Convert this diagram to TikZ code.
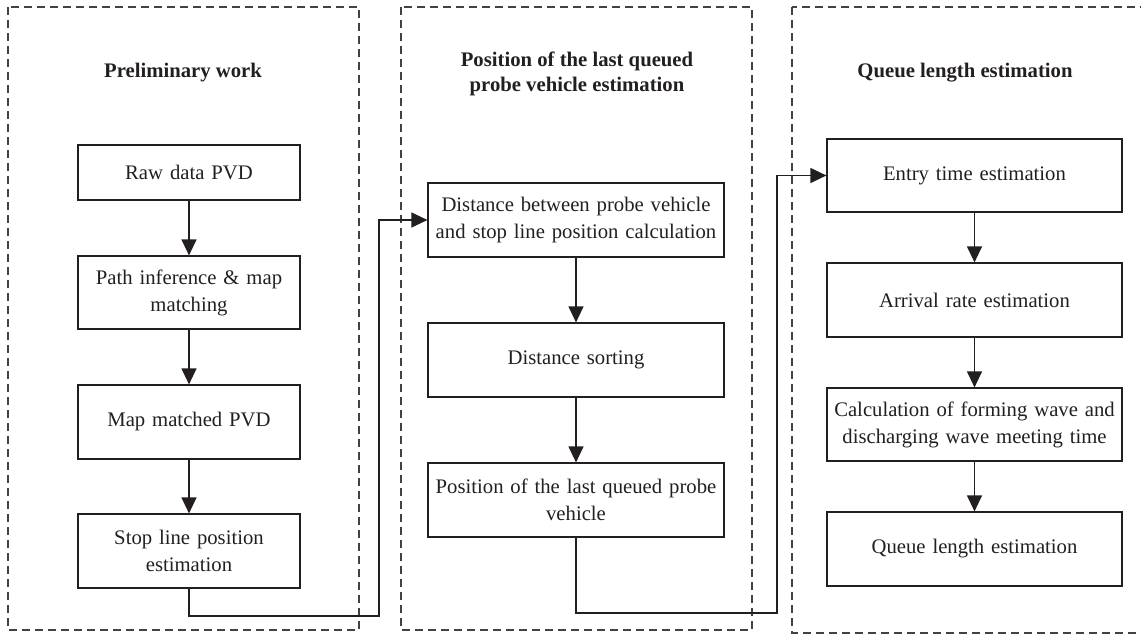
\documentclass[tikz,border=0pt]{standalone}
\usepackage{fontspec}
\setmainfont{Liberation Serif}
\usetikzlibrary{arrows.meta}
\definecolor{ink}{HTML}{231F20}
\begin{document}
\begin{tikzpicture}[x=1pt,y=-1pt,
  stepbox/.style={draw=ink,line width=1.2pt,align=center,inner sep=2pt,font=\fontsize{20.7}{27}\selectfont,text=ink},
  grp/.style={draw=ink!85,line width=1.1pt,dash pattern=on 8pt off 5pt},
  ttl/.style={align=center,font=\fontsize{20.7}{25}\selectfont\bfseries,text=ink},
  flow/.style={draw=ink,line width=1.2pt,-{Triangle[length=16pt,width=15pt]}}]
\useasboundingbox (0,0) rectangle (1141,635);
\clip (0,0) rectangle (1141,635);
% groups
\draw[grp] (8,7) rectangle (359,630);
\draw[grp] (401,7) rectangle (752,630);
\draw[grp] (792,7) rectangle (1150,633);
% titles
\node[ttl] (t1) at (183,73) {Preliminary work};
\node[ttl] (t2) at (577,74) {Position of the last queued\\probe vehicle estimation};
\node[ttl] (t3) at (965,73) {Queue length estimation};
% column 1
\node[stepbox,minimum width=222pt,minimum height=55pt,text width=216pt] (a1) at (189,172.5) {Raw data PVD};
\node[stepbox,minimum width=222pt,minimum height=73pt,text width=216pt] (a2) at (189,292.5) {Path inference \& map\\matching};
\node[stepbox,minimum width=222pt,minimum height=74pt,text width=216pt] (a3) at (189,422) {Map matched PVD};
\node[stepbox,minimum width=222pt,minimum height=74pt,text width=216pt] (a4) at (189,551) {Stop line position\\estimation};
% column 2
\node[stepbox,minimum width=296pt,minimum height=74pt,text width=290pt] (b1) at (576,220) {Distance between probe vehicle\\and stop line position calculation};
\node[stepbox,minimum width=296pt,minimum height=74pt,text width=290pt] (b2) at (576,360) {Distance sorting};
\node[stepbox,minimum width=296pt,minimum height=74pt,text width=290pt] (b3) at (576,500) {Position of the last queued probe\\vehicle};
% column 3
\node[stepbox,minimum width=295pt,minimum height=73pt,text width=289pt] (c1) at (974.5,175.5) {Entry time estimation};
\node[stepbox,minimum width=295pt,minimum height=74pt,text width=289pt] (c2) at (974.5,300) {Arrival rate estimation};
\node[stepbox,minimum width=295pt,minimum height=73pt,text width=289pt] (c3) at (974.5,424.5) {Calculation of forming wave and\\discharging wave meeting time};
\node[stepbox,minimum width=295pt,minimum height=74pt,text width=289pt] (c4) at (974.5,549) {Queue length estimation};
% connectors
\draw[flow] (a1) -- (a2);
\draw[flow] (a2) -- (a3);
\draw[flow] (a3) -- (a4);
\draw[flow] (b1) -- (b2);
\draw[flow] (b2) -- (b3);
\draw[flow] (c1) -- (c2);
\draw[flow] (c2) -- (c3);
\draw[flow] (c3) -- (c4);
\coordinate (j1) at (189,616);
\coordinate (j2) at (379,616);
\coordinate (k1) at (576,613);
\coordinate (k2) at (777,613);
\draw[flow] (a4.south) -- (j1) -- (j2) |- (b1.west);
\draw[flow] (b3.south) -- (k1) -- (k2) |- (c1.west);
\end{tikzpicture}
\end{document}
